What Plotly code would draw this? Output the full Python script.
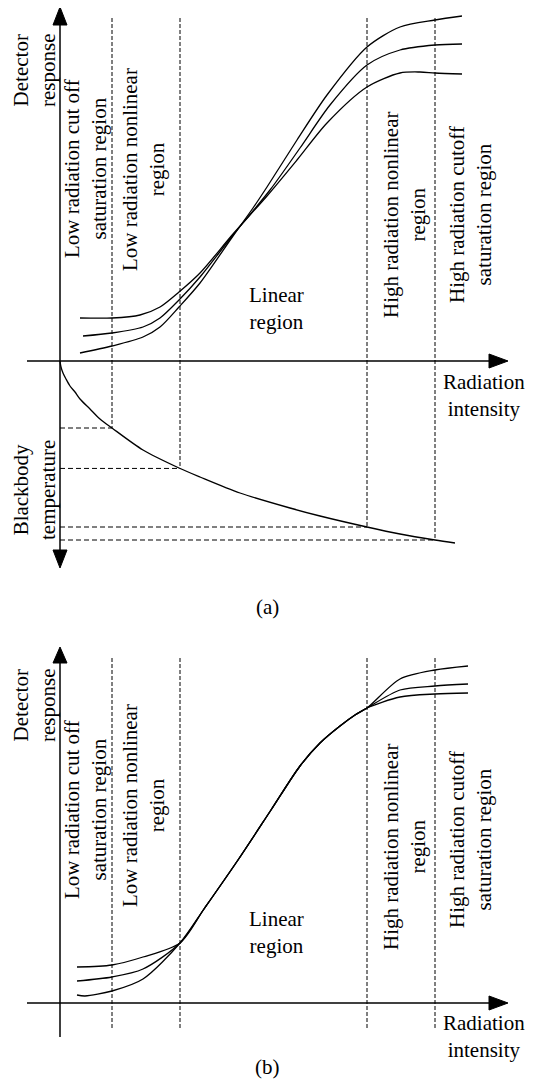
import numpy as np
import plotly.graph_objects as go

# ---------------- data (radiation intensity I, response R) ----------------
# region boundaries along the radiation-intensity axis
boundaries = [52, 120, 307, 375]

# Panel (a): three detector response curves
a_c1_I = [20, 52, 83, 100, 119, 140, 173, 193, 207, 237, 267, 307, 340, 375, 402]
a_c1_R = [8, 15, 24, 34, 54, 78, 125, 153, 174, 221, 266, 314, 334, 341, 345]
a_c2_I = [23, 52, 83, 100, 119, 140, 173, 210, 240, 270, 307, 340, 375, 402]
a_c2_R = [25, 28, 34, 43, 61, 84, 126, 171, 213, 256, 296, 311, 316, 317]
a_c3_I = [20, 52, 80, 100, 119, 140, 173, 207, 237, 267, 307, 340, 360, 375, 402]
a_c3_R = [43, 43, 46, 54, 69, 88, 127, 165, 201, 238, 274, 288, 289, 288, 287]

# Panel (a): blackbody temperature curve (plotted downward)
bb_I = [0, 1, 3, 6, 10, 15, 20, 30, 40, 52, 83, 119, 140, 180, 230, 260, 307, 340, 375, 395]
bb_T = [0, -6, -12, -18, -25, -31, -38, -48, -58, -67, -89, -107, -116, -132, -147, -155,
        -166, -173, -179, -182]

# Panel (b): low-end branches, common part, high-end branches
b_low_I = [[17, 52, 83, 120], [17, 52, 83, 120], [17, 25, 52, 83, 120]]
b_low_R = [[36, 38, 46, 60], [22, 26, 34, 60], [8, 7, 12, 24, 60]]
b_mid_I = [120, 144, 178, 211, 240, 260, 280, 295, 307]
b_mid_R = [60, 94, 143, 193, 237, 260, 277, 288, 295]
b_high_I = [307, 340, 375, 408]
b_high_R = [[295, 324, 333, 337], [295, 313, 317, 319], [295, 306, 309, 310]]

# ---------------- styling ----------------
FONT = dict(family="Liberation Serif, Times New Roman, serif", size=21, color="black")
CURVE = dict(color="black", width=1.3, shape="spline", smoothing=0.8)
VDASH = dict(color="black", width=1, dash="4px,2px")
HDASH = dict(color="black", width=1, dash="5px,3px")
AXIS = dict(color="black", width=1.5)

fig = go.Figure()

def add_curve(I, R, xa, ya):
    fig.add_trace(go.Scatter(x=I, y=R, mode="lines", line=CURVE, xaxis=xa, yaxis=ya,
                             hoverinfo="skip", showlegend=False))

# panel (a)
for I, R in [(a_c1_I, a_c1_R), (a_c2_I, a_c2_R), (a_c3_I, a_c3_R)]:
    add_curve(I, R, "x", "y")
add_curve(bb_I, bb_T, "x", "y")

# panel (b)
for k in range(3):
    I = b_low_I[k] + b_mid_I[1:] + b_high_I[1:]
    R = b_low_R[k] + b_mid_R[1:] + b_high_R[k][1:]
    add_curve(I, R, "x2", "y2")

shapes = []

def line(x0, y0, x1, y1, style, xr, yr):
    shapes.append(dict(type="line", x0=x0, y0=y0, x1=x1, y1=y1, xref=xr, yref=yr,
                       line=style, layer="above"))

def tri(p, xr, yr):
    path = "M {},{} L {},{} L {},{} Z".format(*p[0], *p[1], *p[2])
    shapes.append(dict(type="path", path=path, xref=xr, yref=yr,
                       fillcolor="black", line=dict(color="black", width=1)))

# ----- panel (a) axes -----
X_LEFT, X_TIP, X_HEAD = -33, 448, 429
line(X_LEFT, 0, X_HEAD, 0, AXIS, "x", "y")
tri([(X_TIP, 0), (X_HEAD, 7), (X_HEAD, -7)], "x", "y")
line(0, -190, 0, 337, AXIS, "x", "y")
tri([(0, 354), (-7, 336), (7, 336)], "x", "y")
tri([(0, -207), (-7, -189), (7, -189)], "x", "y")

# dashed boundaries down to the blackbody curve, then across to the axis
bb_at = np.interp(boundaries, bb_I, bb_T)
for b, t in zip(boundaries, bb_at):
    line(b, 343, b, t, VDASH, "x", "y")
    line(0, t, b, t, HDASH, "x", "y")

# ----- panel (b) axes -----
line(X_LEFT, 0, X_HEAD, 0, AXIS, "x2", "y2")
tri([(X_TIP, 0), (X_HEAD, 7), (X_HEAD, -7)], "x2", "y2")
line(0, -34, 0, 341, AXIS, "x2", "y2")
tri([(0, 356), (-7, 340), (7, 340)], "x2", "y2")
for b in boundaries:
    line(b, 345, b, -27, VDASH, "x2", "y2")

# ----- texts -----
ann = []

def text(t, x, y, xr, yr, angle=0):
    ann.append(dict(text=t, x=x, y=y, xref=xr, yref=yr, showarrow=False,
                    textangle=angle, font=FONT, xanchor="center", yanchor="middle"))

labels_a = [
    ("Detector<br>response", -26, 290, -90),
    ("Low radiation cut off<br>saturation region", 25, 192, -90),
    ("Low radiation nonlinear<br>region", 83, 191, -90),
    ("Linear<br>region", 216, 53, 0),
    ("High radiation nonlinear<br>region", 344, 146, -90),
    ("High radiation cutoff<br>saturation region", 410, 146, -90),
    ("Radiation<br>intensity", 424, -34, 0),
    ("Blackbody<br>temperature", -26, -129, -90),
    ("(a)", 207, -246, 0),
]
labels_b = [
    ("Detector<br>response", -26, 297, -90),
    ("Low radiation cut off<br>saturation region", 25, 193, -90),
    ("Low radiation nonlinear<br>region", 83, 197, -90),
    ("Linear<br>region", 216, 71, 0),
    ("High radiation nonlinear<br>region", 344, 156, -90),
    ("High radiation cutoff<br>saturation region", 410, 163, -90),
    ("Radiation<br>intensity", 424, -33, 0),
    ("(b)", 207, -64, 0),
]
for t, x, y, a in labels_a:
    text(t, x, y, "x", "y", a)
for t, x, y, a in labels_b:
    text(t, x, y, "x2", "y2", a)

# the page body adds an 8 px margin, so the figure is 8 px smaller than the window
W, H = 526, 1075
ax_common = dict(visible=False, showgrid=False, zeroline=False, fixedrange=True)
fig.update_layout(
    width=W, height=H, margin=dict(l=0, r=0, t=0, b=0),
    paper_bgcolor="white", plot_bgcolor="white", showlegend=False,
    xaxis=dict(range=[-52, 474], domain=[0, 1], anchor="y", **ax_common),
    yaxis=dict(range=[-259, 353], domain=[1 - 612 / H, 1], anchor="x", **ax_common),
    xaxis2=dict(range=[-52, 474], domain=[0, 1], anchor="y2", **ax_common),
    yaxis2=dict(range=[-80, 373], domain=[0, 453 / H], anchor="x2", **ax_common),
    shapes=shapes, annotations=ann,
)

fig.write_html("out.html")
